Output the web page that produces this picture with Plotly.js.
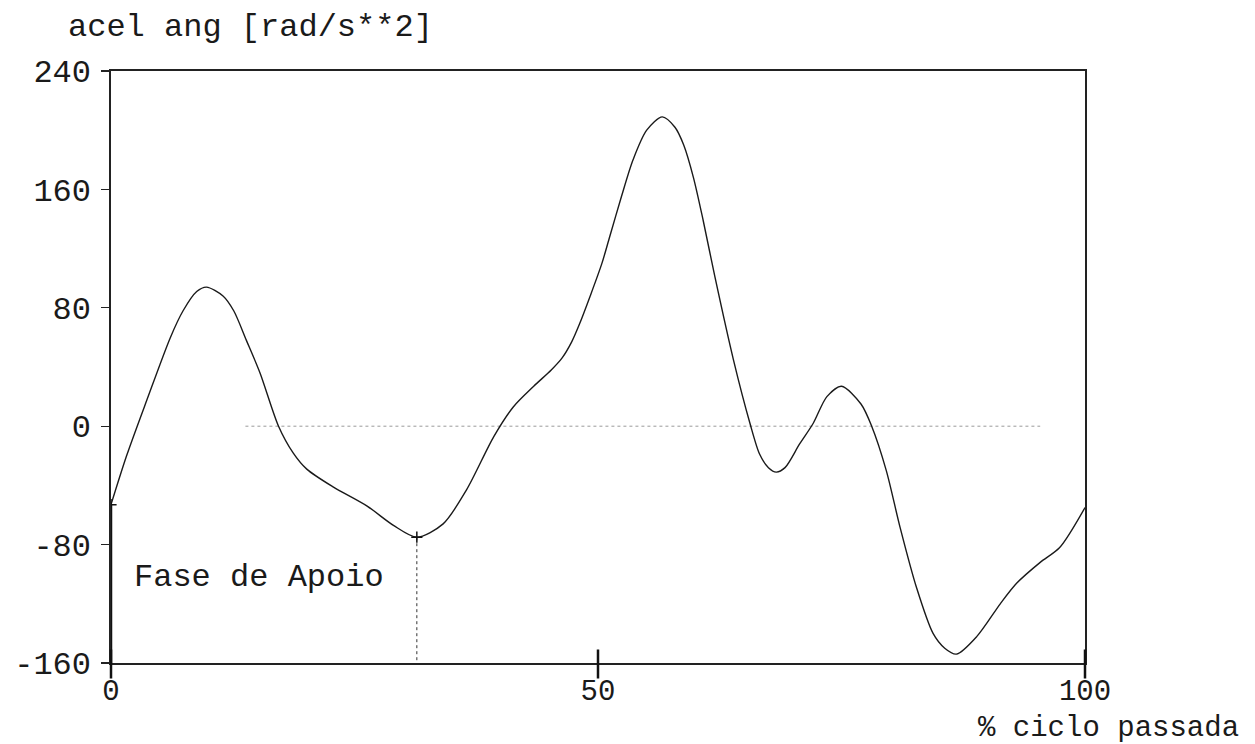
<!DOCTYPE html>
<html>
<head>
<meta charset="utf-8">
<script src="https://cdn.plot.ly/plotly-3.0.1.min.js"></script>
<style>
html,body{margin:0;padding:0;background:#fff;}
#chart{width:1255px;height:744px;}
</style>
</head>
<body>
<div id="chart"></div>
<script>
// % of gait cycle
const cyclePct = [0, 1.6, 3.7, 6.1, 7.4, 8.8, 9.8, 11.5, 12.6, 13.9, 15.3, 17.2, 18.7, 20.1, 22.8, 26.3, 29.0, 31.4, 34.1, 36.5, 39.3, 41.3, 43.4, 45.2, 46.3, 47.3, 48.1, 49.2, 50.4, 51.2, 52.4, 53.6, 55.0, 56.6, 57.9, 58.8, 59.8, 60.8, 62.0, 63.9, 65.6, 66.6, 67.5, 68.3, 69.2, 70.7, 72.1, 73.5, 75.0, 77.0, 78.1, 79.6, 81.0, 82.7, 84.4, 85.6, 86.8, 88.9, 91.3, 93.0, 95.4, 97.4, 100];
// angular acceleration [rad/s**2]
const angAccel = [-53, -20, 18, 60, 78, 91, 94, 88, 78, 58, 36, 0, -18, -29, -41, -54, -67, -75, -66, -43, -7, 13, 27, 38, 46, 57, 69, 88, 110, 128, 155, 180, 200, 209, 202, 190, 168, 139, 101, 45, 2, -19, -28, -31, -28, -12, 2, 20, 27, 15, 0, -30, -68, -109, -140, -150, -154, -142, -120, -106, -92, -82, -55];

const stanceEndPct = 31.4;    // end of stance phase
const stanceEndAccel = -75;
const startAccel = -53;
const yRange = [-160, 240];
const yTicks = [-160, -80, 0, 80, 160, 240];
const xTicks = [0, 50, 100];
const zeroRefX = [13.8, 95.4];

const yTitle = "acel ang [rad/s**2]";
const xTitle = "% ciclo passada";
const phaseLabel = "Fase de Apoio";

const FONT = '"Courier New", "Nimbus Mono PS", "Liberation Mono", monospace';
const INK = '#1a1a1a';

const traces = [
  { // zero reference dotted line
    x: zeroRefX, y: [0, 0], mode: 'lines', type: 'scatter',
    line: {color: '#9a9a9a', width: 1, dash: 'dot'}, hoverinfo: 'skip'
  },
  { // stance end vertical dotted line
    x: [stanceEndPct, stanceEndPct], y: [stanceEndAccel, yRange[0]], mode: 'lines', type: 'scatter',
    line: {color: '#333', width: 1, dash: 'dot'}, hoverinfo: 'skip'
  },
  { // start marker line along left axis
    x: [0, 0], y: [startAccel, yRange[0]], mode: 'lines', type: 'scatter',
    line: {color: '#111', width: 2.5}, hoverinfo: 'skip'
  },
  {
    x: cyclePct, y: angAccel, mode: 'lines', type: 'scatter',
    line: {color: INK, width: 1.4, shape: 'spline', smoothing: 0.8}
  },
  {
    x: [0, stanceEndPct], y: [startAccel, stanceEndAccel], mode: 'markers', type: 'scatter',
    marker: {symbol: 'cross-thin', size: 8, line: {color: '#111', width: 1.5}}
  }
];

// major x tick marks crossing the axis line (drawn as arrow-less annotation lines)
const tickMarks = [];
xTicks.forEach(v => {
  [-15, 17].forEach(off => tickMarks.push({
    x: v, y: yRange[0], xref: 'x', yref: 'y', text: '', showarrow: true,
    arrowhead: 0, arrowwidth: 2.5, arrowcolor: '#111', standoff: 0, startstandoff: 0,
    ax: 0, ay: off
  }));
});

const layout = {
  width: 1255, height: 744,
  margin: {l: 111, r: 170, t: 71, b: 81},
  paper_bgcolor: '#fff', plot_bgcolor: '#fff',
  showlegend: false,
  font: {family: FONT, size: 30, color: INK},
  xaxis: {
    range: [0, 100], tickvals: xTicks, ticktext: xTicks.map(String),
    ticks: '', ticklabelstandoff: 1,
    showline: true, linecolor: '#222', linewidth: 1.6, mirror: true,
    showgrid: false, zeroline: false,
    tickfont: {family: FONT, size: 29, color: INK}
  },
  yaxis: {
    range: yRange, tickvals: yTicks, ticktext: yTicks.map(String),
    ticks: 'outside', ticklen: 8, tickwidth: 1.2, tickcolor: '#222',
    showline: true, linecolor: '#222', linewidth: 1.6, mirror: true,
    showgrid: false, zeroline: false, ticklabelstandoff: 4,
    tickfont: {family: FONT, size: 32, color: INK}
  },
  annotations: tickMarks.concat([
    {text: yTitle, xref: 'paper', yref: 'paper', x: -0.046, y: 1.073,
     xanchor: 'left', yanchor: 'middle', showarrow: false,
     font: {family: FONT, size: 32, color: INK}},
    {text: xTitle, xref: 'paper', yref: 'paper', x: 1.16, y: -0.11,
     xanchor: 'right', yanchor: 'middle', showarrow: false,
     font: {family: FONT, size: 29, color: INK}},
    {text: phaseLabel, xref: 'x', yref: 'y', x: 2.2, y: -102,
     xanchor: 'left', yanchor: 'middle', showarrow: false,
     font: {family: FONT, size: 32, color: INK}}
  ])
};

Plotly.newPlot('chart', traces, layout, {displayModeBar: false, staticPlot: true});
</script>
</body>
</html>
